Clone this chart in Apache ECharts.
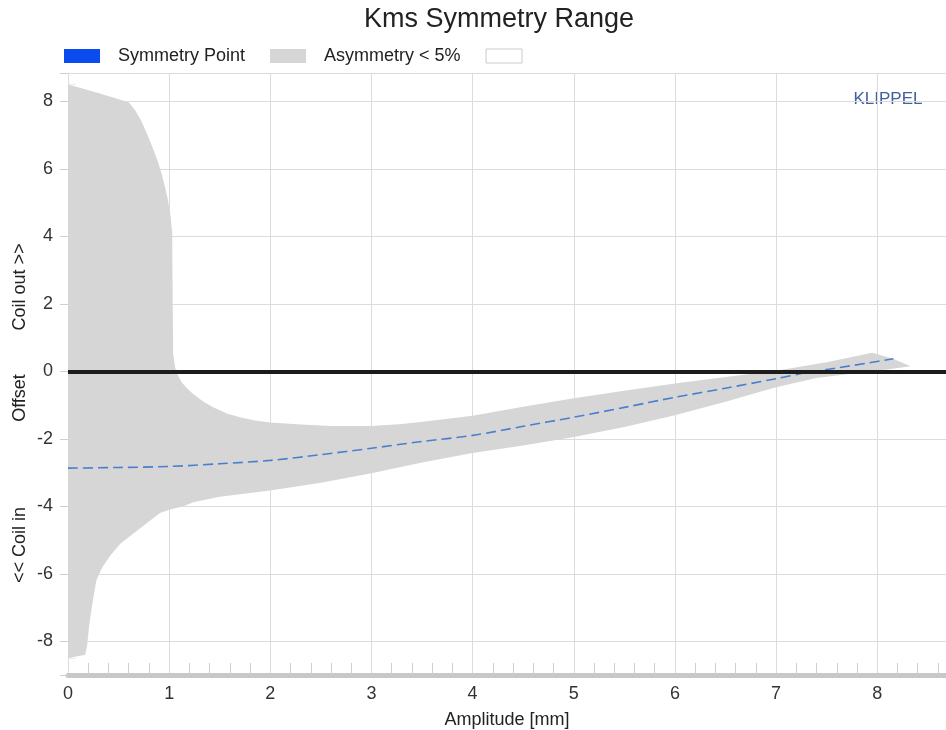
<!DOCTYPE html>
<html><head><meta charset="utf-8">
<script src="https://cdn.jsdelivr.net/npm/echarts@6/dist/echarts.min.js"></script>
<style>html,body{margin:0;padding:0;background:#fff}#c{width:946px;height:730px}</style>
</head><body><div id="c"></div>
<script>
// Upper edge of the "Asymmetry < 5%" region (amplitude mm, offset mm)
const upperX = [0, 0.3, 0.6, 0.66, 0.72, 0.78, 0.84, 0.89, 0.93, 0.96, 0.99, 1.01, 1.03, 1.035, 1.04, 1.06, 1.09, 1.13, 1.18, 1.24, 1.34, 1.44, 1.57, 1.7, 1.85, 2.0, 2.3, 2.6, 3.0, 3.3, 3.55, 4.0, 4.5, 5.0, 5.5, 6.0, 6.5, 7.0, 7.5, 7.95, 8.15, 8.33];
const upperY = [8.5, 8.25, 7.97, 7.75, 7.45, 7.05, 6.6, 6.2, 5.8, 5.45, 5.05, 4.7, 4.1, 2.0, 0.5, 0.1, -0.15, -0.35, -0.52, -0.68, -0.9, -1.07, -1.25, -1.36, -1.46, -1.52, -1.58, -1.62, -1.62, -1.56, -1.48, -1.32, -1.05, -0.8, -0.58, -0.36, -0.17, 0.02, 0.27, 0.55, 0.38, 0.15];
// Lower edge of the region
const lowerX = [0, 0.17, 0.19, 0.21, 0.24, 0.28, 0.34, 0.42, 0.52, 0.65, 0.8, 0.91, 1.0, 1.14, 1.24, 1.5, 2.0, 2.5, 3.0, 3.5, 4.0, 4.5, 5.0, 5.5, 6.0, 6.5, 7.0, 7.4, 7.8, 8.1, 8.33];
const lowerY = [-8.5, -8.4, -8.1, -7.5, -6.9, -6.2, -5.8, -5.45, -5.1, -4.8, -4.45, -4.2, -4.1, -4.0, -3.88, -3.72, -3.53, -3.3, -3.02, -2.7, -2.42, -2.2, -1.95, -1.65, -1.3, -0.9, -0.47, -0.2, -0.05, 0.05, 0.15];
// Symmetry point curve
const symX = [0, 0.5, 1.0, 1.5, 2.0, 2.5, 3.0, 3.5, 4.0, 4.5, 5.0, 5.5, 6.0, 6.5, 7.0, 7.3, 7.6, 7.9, 8.16];
const symY = [-2.87, -2.85, -2.82, -2.74, -2.64, -2.47, -2.28, -2.08, -1.9, -1.63, -1.36, -1.07, -0.77, -0.5, -0.22, -0.04, 0.1, 0.24, 0.37];
const xTickLabels = ['0','1','2','3','4','5','6','7','8'];
const yTickLabels = ['-8','-6','-4','-2','0','2','4','6','8'];
const legendNames = ['Symmetry Point', 'Asymmetry < 5%', ' '];

const FONT = '"Liberation Sans", Arial, sans-serif';

const bandPoints = [];
for (let i = 0; i < upperX.length; i++) bandPoints.push([upperX[i], upperY[i]]);
for (let i = lowerX.length - 1; i >= 0; i--) bandPoints.push([lowerX[i], lowerY[i]]);
const symData = symX.map((x, i) => [x, symY[i]]);

const chart = echarts.init(document.getElementById('c'), null, {renderer: 'canvas'});
chart.setOption({
  animation: false,
  backgroundColor: '#fff',
  textStyle: {fontFamily: FONT},
  legend: {
    left: 59, top: 42,
    itemWidth: 36, itemHeight: 14, itemGap: 25,
    selectedMode: false,
    textStyle: {fontFamily: FONT, fontSize: 18, color: '#222', padding: [0, 0, 0, 13]},
    data: [
      {name: legendNames[0], icon: 'rect', itemStyle: {color: '#0a4cf0', borderWidth: 0}},
      {name: legendNames[1], icon: 'rect', itemStyle: {color: '#d6d6d6', borderWidth: 0}},
      {name: legendNames[2], icon: 'rect', itemStyle: {color: '#ffffff', borderColor: '#cccccc', borderWidth: 1}}
    ]
  },
  grid: {left: 68, right: 0, top: 73, bottom: 55, containLabel: false, outerBoundsMode: 'none'},
  xAxis: {
    type: 'value', min: 0, max: 8.68, interval: 1,
    name: 'Amplitude [mm]', nameLocation: 'middle', nameGap: 36,
    nameTextStyle: {fontFamily: FONT, fontSize: 18, color: '#222'},
    axisLine: {show: true, onZero: false, lineStyle: {color: '#c8c8c8', width: 5}},
    axisTick: {show: false},
    minorTick: {show: true, splitNumber: 5, length: -12, lineStyle: {color: '#cfcfcf', width: 1}},
    axisLabel: {
      fontFamily: FONT, fontSize: 18, color: '#333', margin: 10,
      formatter: v => { const i = xTickLabels.indexOf(String(v)); return i >= 0 ? xTickLabels[i] : ''; }
    },
    splitLine: {show: true, lineStyle: {color: '#dcdcdc', width: 1}}
  },
  yAxis: {
    type: 'value', min: -9, max: 8.84, splitNumber: 9, minInterval: 2, maxInterval: 2,
    axisLine: {show: true, onZero: false, lineStyle: {color: '#dcdcdc', width: 1}},
    axisTick: {show: true, length: 8, lineStyle: {color: '#d0d0d0'}},
    minorTick: {show: true, splitNumber: 4, length: -8, lineStyle: {color: '#ebebeb'}},
    axisLabel: {
      fontFamily: FONT, fontSize: 18, color: '#333', margin: 15,
      formatter: v => { const i = yTickLabels.indexOf(String(v)); return i >= 0 ? yTickLabels[i] : ''; }
    },
    splitLine: {show: true, lineStyle: {color: '#dcdcdc', width: 1}}
  },
  graphic: [
    {type: 'text', x: 499, y: 20, style: {text: 'Kms Symmetry Range', font: '27px ' + FONT, fill: '#222', textAlign: 'center', textVerticalAlign: 'middle'}},
    {type: 'text', x: 888, y: 99, style: {text: 'KLIPPEL', font: '17px ' + FONT, fill: '#41609e', textAlign: 'center', textVerticalAlign: 'middle'}},
    {type: 'text', x: 20, y: 287, rotation: Math.PI / 2, style: {text: 'Coil out >>', font: '18px ' + FONT, fill: '#222', textAlign: 'center', textVerticalAlign: 'middle'}},
    {type: 'text', x: 20, y: 398, rotation: Math.PI / 2, style: {text: 'Offset', font: '18px ' + FONT, fill: '#222', textAlign: 'center', textVerticalAlign: 'middle'}},
    {type: 'text', x: 20, y: 545, rotation: Math.PI / 2, style: {text: '<< Coil in', font: '18px ' + FONT, fill: '#222', textAlign: 'center', textVerticalAlign: 'middle'}}
  ],
  series: [
    {
      name: legendNames[1], type: 'custom', clip: true, z: 1,
      itemStyle: {color: '#d6d6d6'},
      encode: {x: 0, y: 1},
      data: bandPoints,
      renderItem: function (params, api) {
        if (params.dataIndex !== 0) return null;
        const pts = bandPoints.map(p => api.coord(p));
        return {type: 'polygon', shape: {points: pts, smooth: 0}, style: {fill: '#d6d6d6', stroke: null}};
      }
    },
    {
      name: legendNames[0], type: 'line', z: 3, showSymbol: false, smooth: 0.3,
      data: symData, itemStyle: {color: '#0a4cf0'},
      lineStyle: {color: '#4a7fcf', width: 1.6, type: [10, 5]},
      markLine: {
        silent: true, symbol: 'none', label: {show: false},
        lineStyle: {color: '#1c1c1c', width: 4, type: 'solid'},
        data: [{yAxis: 0}]
      }
    },
    {name: legendNames[2], type: 'line', data: [], itemStyle: {color: '#ffffff'}}
  ]
});
</script></body></html>
